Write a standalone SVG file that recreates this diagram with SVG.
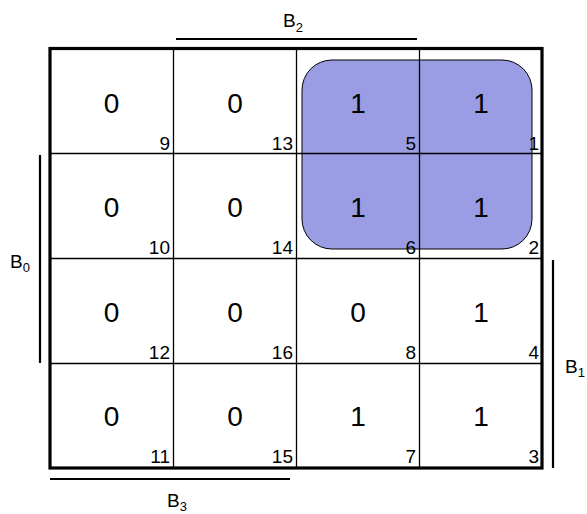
<svg xmlns="http://www.w3.org/2000/svg" width="587" height="514" viewBox="0 0 587 514">
<style>
.v{font-family:"Liberation Sans",Arial,sans-serif;font-size:28px;text-anchor:middle;fill:#000}
.n{font-family:"Liberation Sans",Arial,sans-serif;font-size:19px;text-anchor:end;fill:#000}
.l{font-family:"Liberation Sans",Arial,sans-serif;font-size:19px;fill:#000}
.s{font-size:13px}
.g{stroke:#000;stroke-width:1.3;fill:none}
.bar{stroke:#000;stroke-width:2.2;fill:none}
</style>
<rect id="group-1" x="302" y="60" width="230" height="189" rx="30" ry="30" fill="#9a9de3" stroke="#000" stroke-width="1"/>
<g id="grid">
<line class="g" x1="173.5" y1="49" x2="173.5" y2="468"/>
<line class="g" x1="296.5" y1="49" x2="296.5" y2="468"/>
<line class="g" x1="419.5" y1="49" x2="419.5" y2="468"/>
<line class="g" x1="50" y1="153.5" x2="542" y2="153.5"/>
<line class="g" x1="50" y1="258.5" x2="542" y2="258.5"/>
<line class="g" x1="50" y1="363.5" x2="542" y2="363.5"/>
<rect x="50" y="48.5" width="492" height="419.5" fill="none" stroke="#000" stroke-width="3.2"/>
</g>
<g id="c9"><text class="v" x="111.5" y="113">0</text><text class="n" x="170" y="150">9</text></g>
<g id="c13"><text class="v" x="235" y="113">0</text><text class="n" x="293" y="150">13</text></g>
<g id="c5"><text class="v" x="358" y="113">1</text><text class="n" x="416" y="150">5</text></g>
<g id="c1"><text class="v" x="481" y="113">1</text><text class="n" x="539" y="150">1</text></g>
<g id="c10"><text class="v" x="111.5" y="217">0</text><text class="n" x="170" y="254">10</text></g>
<g id="c14"><text class="v" x="235" y="217">0</text><text class="n" x="293" y="254">14</text></g>
<g id="c6"><text class="v" x="358" y="217">1</text><text class="n" x="416" y="254">6</text></g>
<g id="c2"><text class="v" x="481" y="217">1</text><text class="n" x="539" y="254">2</text></g>
<g id="c12"><text class="v" x="111.5" y="322">0</text><text class="n" x="170" y="359">12</text></g>
<g id="c16"><text class="v" x="235" y="322">0</text><text class="n" x="293" y="359">16</text></g>
<g id="c8"><text class="v" x="358" y="322">0</text><text class="n" x="416" y="359">8</text></g>
<g id="c4"><text class="v" x="481" y="322">1</text><text class="n" x="539" y="359">4</text></g>
<g id="c11"><text class="v" x="111.5" y="426">0</text><text class="n" x="170" y="463">11</text></g>
<g id="c15"><text class="v" x="235" y="426">0</text><text class="n" x="293" y="463">15</text></g>
<g id="c7"><text class="v" x="358" y="426">1</text><text class="n" x="416" y="463">7</text></g>
<g id="c3"><text class="v" x="481" y="426">1</text><text class="n" x="539" y="463">3</text></g>
<g id="B2"><line class="bar" x1="176" y1="39" x2="417" y2="39"/><text class="l" x="283" y="27">B<tspan class="s" dy="5">2</tspan></text></g>
<g id="B0"><line class="bar" x1="40" y1="155" x2="40" y2="363"/><text class="l" x="10" y="268">B<tspan class="s" dy="4">0</tspan></text></g>
<g id="B1"><line class="bar" x1="553" y1="260" x2="553" y2="468"/><text class="l" x="565" y="373">B<tspan class="s" dy="4">1</tspan></text></g>
<g id="B3"><line class="bar" x1="50" y1="479" x2="290" y2="479"/><text class="l" x="167" y="507">B<tspan class="s" dy="4">3</tspan></text></g>
</svg>
